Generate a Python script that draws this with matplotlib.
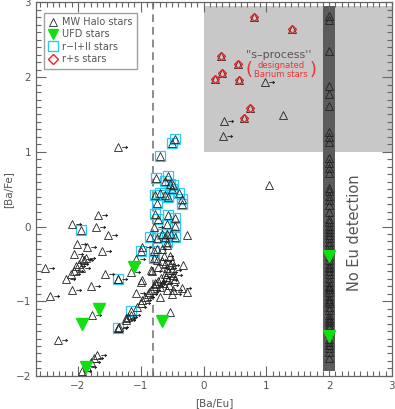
import matplotlib
matplotlib.use("Agg")
import matplotlib.pyplot as plt
from matplotlib.path import Path
from matplotlib.lines import Line2D
from matplotlib.ticker import MultipleLocator

# MW halo stars with [Ba/Eu] lower limits (drawn with a right arrow)
lim_x = [-1.37, 0.98, 0.32, 0.31, -1.68, -2.09, -1.72, -1.53, -2.02, -1.85,
         -2.07, -1.61, -1.94, -1.90, -1.98, -2.03, -1.96, -2.06, -2.11, -1.88,
         -2.19, -2.52, -1.57, -2.09, -1.80, -2.45, -1.37, -1.16, -1.08, -1.78,
         -2.32, -1.74, -1.80, -1.85, -1.93, -1.70, -1.37,
         -1.35, -1.24, -1.20, -1.16, -1.06, -1.00, -0.93, -0.88, -0.83, -0.79,
         -0.76, -0.72, -0.67, -1.24, -1.08,
         -0.74, -0.74, -0.66, -0.82, -0.72, -0.61, -0.58, -0.56, -0.61, -0.53,
         -0.48, -0.56, -0.64, -0.77, -0.58, -0.48, -0.51, -0.35, -0.87, -0.98,
         -0.79, -0.98, -0.60, -0.55, -0.50, -0.63]
lim_y = [1.06, 1.93, 1.41, 1.21, 0.16, 0.04, -0.01, -0.12, -0.24, -0.27,
         -0.37, -0.33, -0.43, -0.45, -0.50, -0.53, -0.56, -0.60, -0.64, -0.42,
         -0.70, -0.56, -0.63, -0.85, -0.79, -0.93, -0.70, -0.61, -0.43, -1.19,
         -1.52, -1.76, -1.81, -1.88, -1.94, -1.72, -1.36,
         -1.34, -1.25, -1.21, -1.18, -1.08, -1.03, -0.94, -0.90, -0.85, -0.80,
         -0.77, -0.73, -0.69, -1.23, -0.89,
         -0.30, -0.45, -0.46, -0.59, -0.54, -0.50, -0.56, -0.61, -0.63, -0.52,
         -0.65, -0.72, -0.76, -0.76, -0.85, -0.85, -0.90, -0.83, -0.88, -0.99,
         0.00, -0.28, -0.68, -0.78, -0.58, -0.40]

# MW halo stars with measured [Ba/Eu]
halo_x = [1.27, 1.04, -0.27, -0.32, -0.27, -0.69, -0.54, -0.98, -1.00, -0.69,
          -0.58, -0.66, -0.83, -0.54, -0.50, -0.45]
halo_y = [1.49, 0.56, -0.11, -0.52, -0.88, -0.94, -1.14, -0.72, -0.74, -0.81,
          -0.25, -0.30, -0.58, -0.40, -0.47, -0.70]

# halo stars with no Eu detection, placed at [Ba/Eu] = 2
noeu_x = 2.0
noeu_y = [2.82, 2.77, 2.35, 1.88, 1.78, 1.61, 1.26, 1.20, 1.13, 0.92, 0.85,
          0.78, 0.71, 0.52, 0.47, 0.41, 0.35, 0.29, 0.20, 0.10, 0.06, 0.01,
          -0.03, -0.08, -0.12, -0.16, -0.21, -0.25, -0.30, -0.34, -0.40,
          -0.45, -0.50, -0.54, -0.56, -0.60, -0.64, -0.69, -0.74, -0.79,
          -0.81, -0.84, -0.88, -0.93, -0.97, -1.00, -1.03, -1.08, -1.12,
          -1.18, -1.22, -1.25, -1.28, -1.32, -1.36, -1.43, -1.50, -1.54,
          -1.59, -1.63, -1.68, -1.76]

# UFD stars
ufd_x = [-1.66, -1.94, -1.88, -1.10, -0.66, 2.0, 2.0]
ufd_y = [-1.10, -1.31, -1.88, -0.54, -1.26, -0.39, -1.47]

# r-I + r-II stars
r_x = [-0.45, -0.51, -0.69, -0.75, -0.57, -0.61, -0.53, -0.48, -0.51, -0.39,
       -0.78, -0.69, -0.61, -0.56, -0.35, -0.74, -0.35, -0.77, -0.72, -0.57,
       -0.45, -0.58, -0.46, -0.66, -0.58, -0.52, -0.85, -0.74, -0.61, -0.45,
       -0.58, -0.99, -0.79, -0.79, -1.95, -1.37, -1.15, -1.37]
r_y = [1.17, 1.12, 0.95, 0.65, 0.67, 0.61, 0.57, 0.55, 0.50, 0.45,
       0.42, 0.45, 0.42, 0.40, 0.37, 0.32, 0.30, 0.17, 0.10, 0.15,
       0.12, 0.04, 0.01, -0.10, -0.10, -0.10, -0.14, -0.16, -0.14, -0.14,
       -0.21, -0.33, -0.33, -0.42, -0.05, -0.70, -1.13, -1.36]

# r+s stars
rs_x = [0.80, 1.41, 0.28, 0.55, 0.30, 0.19, 0.57, 0.74, 0.65]
rs_y = [2.81, 2.64, 2.28, 2.17, 2.05, 1.98, 1.96, 1.59, 1.45]

# right arrow marker, starts just right of the triangle
arrow = Path([(0.55, 0), (1.3, 0), (1.05, 0.2), (1.3, 0), (1.05, -0.2)],
             [Path.MOVETO, Path.LINETO, Path.MOVETO, Path.LINETO, Path.LINETO])

axis_gray = "#666666"
plt.rcParams["font.family"] = "DejaVu Sans"

fig = plt.figure(figsize=(3.95, 4.09), dpi=100)
ax = fig.add_axes([0.091, 0.081, 0.901, 0.913])

ax.fill_between([0, 3], 1.0, 2.95, color="#c8c8c8", lw=0, zorder=0)
ax.fill_between([1.9, 2.1], -1.93, 2.95, color="#5c5c5c", lw=0, zorder=0.5)
ax.axvline(-0.8, color="#8c8c8c", ls=(0, (4, 2.5)), lw=1.4, zorder=1)

tri = dict(ls="none", marker="^", ms=6, mfc="none", mec="#222222", mew=0.6, zorder=3)
ax.plot(halo_x, halo_y, **tri)
ax.plot(lim_x, lim_y, **tri)
ax.plot(lim_x, lim_y, ls="none", marker=arrow, ms=13, mec="#222222", mew=0.6,
        mfc="none", zorder=3)
ax.plot([noeu_x] * len(noeu_y), noeu_y, **tri)
ax.plot(r_x, r_y, **tri)
ax.plot(rs_x, rs_y, **tri)
ax.plot(r_x, r_y, ls="none", marker="s", ms=7.5, mfc="none", mec="#2ec8f0",
        mew=0.9, zorder=2.5)
ax.plot(rs_x, rs_y, ls="none", marker="D", ms=4.5, mfc="none", mec="#ee2222",
        mew=1.0, zorder=4)
ax.plot(ufd_x, ufd_y, ls="none", marker="v", ms=9, color="#10e010", zorder=5)

ax.text(1.2, 2.29, "''s\u2013process''", color="#555555", fontsize=8,
        ha="center", va="center")
ax.text(1.23, 2.09, "designated\nBarium stars", color="#ee3333", fontsize=6,
        ha="center", va="center", linespacing=1.0)
ax.text(0.72, 2.09, "(", color="#ee3333", fontsize=13, ha="center", va="center")
ax.text(1.74, 2.09, ")", color="#ee3333", fontsize=13, ha="center", va="center")
ax.text(2.4, -0.08, "No Eu detection", color="#555555", fontsize=10.5,
        rotation=90, ha="center", va="center")

ax.set_xlim(-2.67, 3.0)
ax.set_ylim(-2.0, 3.0)
ax.xaxis.set_major_locator(MultipleLocator(1))
ax.xaxis.set_minor_locator(MultipleLocator(0.1))
ax.yaxis.set_major_locator(MultipleLocator(1))
ax.yaxis.set_minor_locator(MultipleLocator(0.1))
ax.tick_params(which="both", direction="in", top=True, right=True,
               color=axis_gray, labelcolor="#555555", labelsize=7.5, width=0.8)
ax.tick_params(which="major", length=7)
ax.tick_params(which="minor", length=3.5)
for s in ax.spines.values():
    s.set_color(axis_gray)
    s.set_linewidth(0.9)

ax.set_xlabel("[Ba/Eu]", color="#555555", fontsize=7.5, labelpad=5)
ax.set_ylabel("[Ba/Fe]", color="#555555", fontsize=7.5, labelpad=2)

handles = [
    Line2D([], [], ls="none", marker="^", ms=6, mfc="none", mec="#222222", mew=0.6),
    Line2D([], [], ls="none", marker="v", ms=7, color="#10e010"),
    Line2D([], [], ls="none", marker="s", ms=7, mfc="none", mec="#2ec8f0", mew=1.0),
    Line2D([], [], ls="none", marker="D", ms=5, mfc="none", mec="#ee2222", mew=1.0),
]
labels = ["MW Halo stars", "UFD stars", "r\u2212I+II stars", "r+s stars"]
leg = ax.legend(handles, labels, loc="upper left", bbox_to_anchor=(0.022, 0.973),
                fontsize=7, frameon=True, fancybox=False, borderaxespad=0,
                handlelength=1.0, handletextpad=0.4, labelspacing=0.25,
                borderpad=0.45)
leg.get_frame().set_edgecolor("#888888")
leg.get_frame().set_linewidth(1.0)
for t in leg.get_texts():
    t.set_color("#555555")

fig.savefig("out.png", dpi=100)
